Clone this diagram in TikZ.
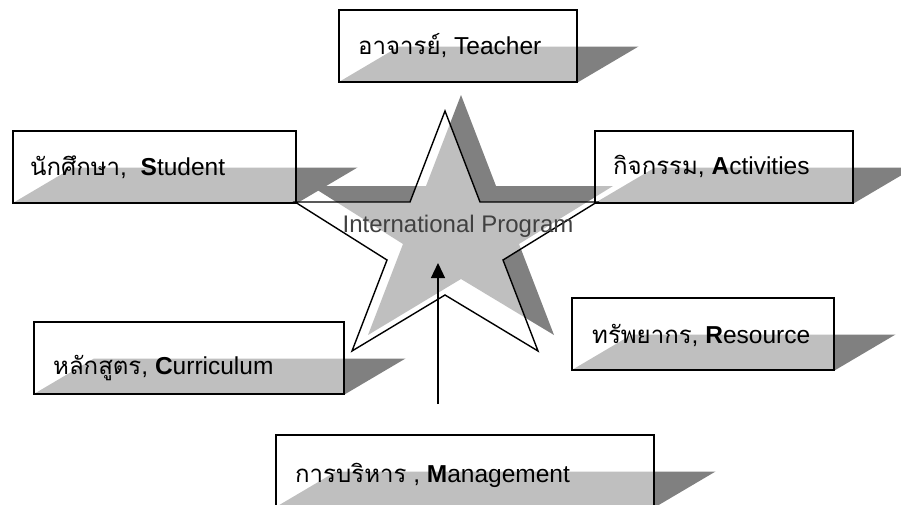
\documentclass[tikz,border=0pt]{standalone}
\usepackage{fontspec}
\setmainfont{Liberation Sans}
\newfontfamily\thaifont[Script=Thai,Scale=0.98]{Loma}
\usetikzlibrary{arrows.meta,calc}
\pgfdeclarelayer{background}
\pgfsetlayers{background,main}
\definecolor{shadowdark}{HTML}{808080}
\tikzset{
  x=1pt, y=-1pt,
  infobox/.style={draw=black, line width=1.5pt, fill=white, fill opacity=0.5,
    anchor=north west, inner sep=0pt, minimum height=72pt},
  lbl/.style={font=\fontsize{24.5}{28}\selectfont, anchor=base west, inner sep=0pt, text=black},
  shadowfill/.style={fill=shadowdark},
  starline/.style={draw=black, line width=1.4pt, line join=miter, fill=white, fill opacity=0.5},
}
\newcommand{\boxshadow}[1]{%
  \fill[shadowfill] (#1.south west) -- (#1.south east) -- ($(#1.south east)+(61,-36)$) -- ($(#1.south west)+(61,-36)$) -- cycle;}
\newcommand{\starpts}{(445,111) -- (480,202) -- (597,202) -- (503,260) -- (538,351) -- (445,295) -- (352,351) -- (387,260) -- (295,202) -- (410,202) -- cycle}
\begin{document}
\begin{tikzpicture}
\useasboundingbox (0,0) rectangle (901,504);
% boxes
\node[infobox, minimum width=238pt] (teacher) at (338,9) {};
\node[infobox, minimum width=283pt] (student) at (12,130) {};
\node[infobox, minimum width=258pt] (activities) at (594,130) {};
\node[infobox, minimum width=262pt] (resource) at (571,297) {};
\node[infobox, minimum width=310pt] (curriculum) at (33,321) {};
\node[infobox, minimum width=378pt] (management) at (275,434) {};
% shadows
\begin{pgfonlayer}{background}
  \boxshadow{teacher}
  \boxshadow{student}
  \boxshadow{activities}
  \boxshadow{resource}
  \boxshadow{curriculum}
  \boxshadow{management}
  \fill[shadowfill, shift={(16,-16)}] \starpts;
\end{pgfonlayer}
% star
\path[starline] \starpts;
\node[font=\fontsize{24}{28}\selectfont, text=black!75, anchor=base, inner sep=0pt] (program) at (458,232) {International Program};
% labels
\node[lbl] (teachert) at (358,54) {{\thaifont อาจารย์}, Teacher};
\node[lbl] (studentt) at (30,175) {{\thaifont นักศึกษา},\ \ \textbf{S}tudent};
\node[lbl] (activitiest) at (613,174) {{\thaifont กิจกรรม}, \textbf{A}ctivities};
\node[lbl] (resourcet) at (592,343) {{\thaifont ทรัพยากร}, \textbf{R}esource};
\node[lbl] (curriculumt) at (53,374) {{\thaifont หลักสูตร}, \textbf{C}urriculum};
\node[lbl] (managementt) at (295,482) {{\thaifont การบริหาร} , \textbf{M}anagement};
% arrow
\coordinate (arrowfoot) at (438,404);
\coordinate (arrowtip) at (438,263);
\draw[line width=1.3pt, -{Triangle[width=14pt,length=15pt]}] (arrowfoot) -- (arrowtip);
\end{tikzpicture}
\end{document}
